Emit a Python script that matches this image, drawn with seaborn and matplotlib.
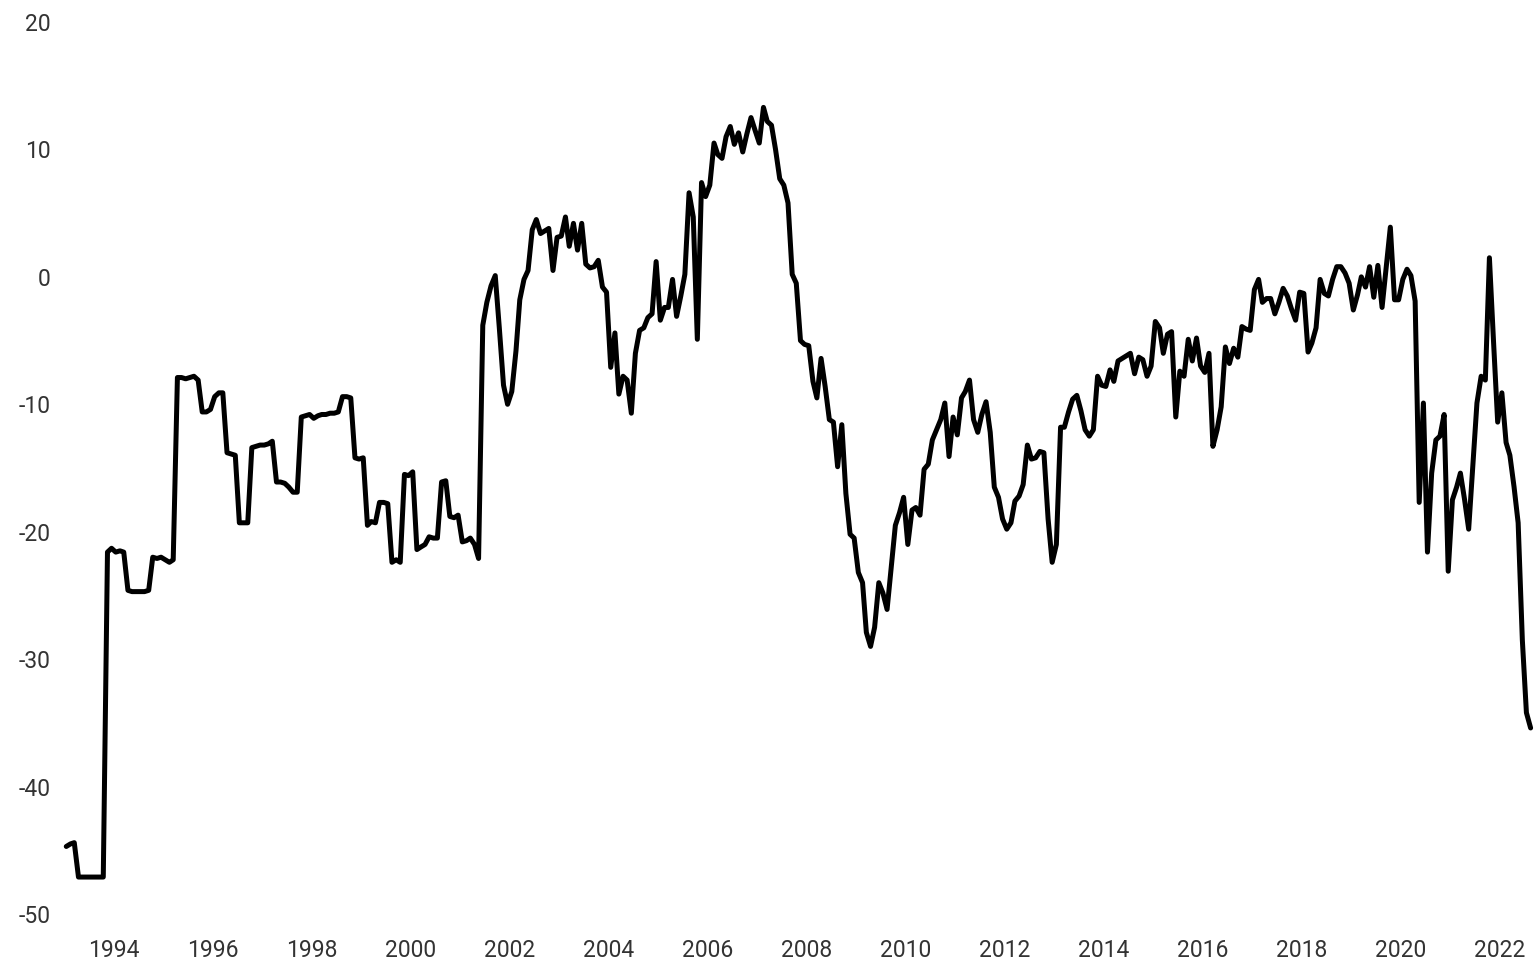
import pandas as pd
import matplotlib
matplotlib.use("Agg")
import matplotlib.pyplot as plt
import matplotlib.dates as mdates
import seaborn as sns

# Valores mensais (jan/1993 a ago/2022)
y1993 = [-44.7, -44.5, -44.4, -47.1, -47.1, -47.1, -47.1, -47.1, -47.1, -47.1, -21.6, -21.3]
y1994 = [-21.6, -21.5, -21.6, -24.6, -24.7, -24.7, -24.7, -24.7, -24.6, -22.0, -22.1, -22.0]
y1995 = [-22.2, -22.4, -22.2, -7.9, -7.9, -8.0, -7.9, -7.8, -8.1, -10.6, -10.6, -10.4]
y1996 = [-9.4, -9.1, -9.1, -13.8, -13.9, -14.0, -19.3, -19.3, -19.3, -13.4, -13.3, -13.2]
y1997 = [-13.2, -13.1, -12.9, -16.1, -16.1, -16.2, -16.5, -16.9, -16.9, -11.0, -10.9, -10.8]
y1998 = [-11.1, -10.9, -10.8, -10.8, -10.7, -10.7, -10.6, -9.4, -9.4, -9.5, -14.2, -14.3]
y1999 = [-14.2, -19.5, -19.2, -19.3, -17.7, -17.7, -17.8, -22.4, -22.2, -22.4, -15.5, -15.6]
y2000 = [-15.3, -21.4, -21.2, -21.0, -20.4, -20.5, -20.5, -16.1, -16.0, -18.8, -18.9, -18.7]
y2001 = [-20.8, -20.7, -20.5, -21.0, -22.1, -3.8, -2.0, -0.7, 0.1, -4.0, -8.5, -10.0]
y2002 = [-9.0, -5.8, -1.8, -0.2, 0.5, 3.7, 4.5, 3.4, 3.6, 3.8, 0.5, 3.1]
y2003 = [3.2, 4.7, 2.4, 4.2, 2.1, 4.2, 1.0, 0.7, 0.8, 1.3, -0.8, -1.2]
y2004 = [-7.1, -4.4, -9.2, -7.8, -8.1, -10.7, -6.0, -4.2, -4.0, -3.2, -2.9, 1.2]
y2005 = [-3.4, -2.4, -2.4, -0.2, -3.1, -1.5, 0.2, 6.6, 4.7, -4.9, 7.4, 6.3]
y2006 = [7.2, 10.5, 9.6, 9.3, 11.0, 11.8, 10.4, 11.3, 9.8, 11.2, 12.5, 11.5]
y2007 = [10.5, 13.3, 12.2, 11.9, 10.0, 7.7, 7.2, 5.8, 0.2, -0.5, -5.0, -5.3]
y2008 = [-5.4, -8.2, -9.5, -6.4, -8.6, -11.2, -11.4, -14.9, -11.6, -17.0, -20.2, -20.5]
y2009 = [-23.2, -24.0, -27.9, -29.0, -27.5, -24.0, -24.8, -26.1, -22.7, -19.5, -18.5, -17.3]
y2010 = [-21.0, -18.3, -18.1, -18.7, -15.1, -14.7, -12.8, -12.0, -11.2, -9.9, -14.1, -11.0]
y2011 = [-12.4, -9.5, -9.0, -8.1, -11.2, -12.2, -10.8, -9.8, -12.2, -16.5, -17.3, -19.0]
y2012 = [-19.8, -19.3, -17.6, -17.2, -16.3, -13.2, -14.3, -14.2, -13.7, -13.8, -19.0, -22.4]
y2013 = [-21.0, -11.8, -11.8, -10.6, -9.6, -9.3, -10.5, -12.0, -12.5, -12.0, -7.8, -8.5]
y2014 = [-8.6, -7.3, -8.2, -6.6, -6.4, -6.2, -6.0, -7.6, -6.3, -6.5, -7.8, -7.0]
y2015 = [-3.5, -4.0, -6.0, -4.5, -4.3, -11.0, -7.4, -7.8, -4.9, -6.6, -4.8, -7.0]
y2016 = [-7.5, -6.0, -13.3, -12.0, -10.2, -5.5, -6.8, -5.6, -6.3, -3.9, -4.1, -4.2]
y2017 = [-1.0, -0.2, -2.0, -1.7, -1.7, -2.9, -2.0, -0.9, -1.5, -2.5, -3.4, -1.2]
y2018 = [-1.3, -5.9, -5.2, -4.0, -0.2, -1.3, -1.5, -0.2, 0.8, 0.8, 0.3, -0.5]
y2019 = [-2.6, -1.4, 0.0, -0.8, 0.8, -1.6, 0.9, -2.4, 0.8, 3.9, -1.8, -1.8]
y2020 = [-0.2, 0.6, 0.1, -1.9, -17.7, -9.9, -21.6, -15.4, -12.8, -12.5, -10.8, -23.1]
y2021 = [-17.5, -16.5, -15.4, -17.5, -19.8, -14.8, -9.9, -7.8, -8.1, 1.5, -5.2, -11.4]
y2022 = [-9.1, -13.0, -14.0, -16.5, -19.3, -28.5, -34.2, -35.4]

valores = (y1993 + y1994 + y1995 + y1996 + y1997 + y1998 + y1999 + y2000
           + y2001 + y2002 + y2003 + y2004 + y2005 + y2006 + y2007 + y2008
           + y2009 + y2010 + y2011 + y2012 + y2013 + y2014 + y2015 + y2016
           + y2017 + y2018 + y2019 + y2020 + y2021 + y2022)
# meio do mês
datas = pd.date_range("1993-01-01", periods=len(valores), freq="MS") + pd.Timedelta(days=14)

yticks = [-50, -40, -30, -20, -10, 0, 10, 20]

df = pd.DataFrame({"data": datas, "valor": valores})

sns.set_style("white")
plt.rcParams["font.family"] = ["Roboto", "DejaVu Sans"]
plt.rcParams["axes.unicode_minus"] = False

fig = plt.figure(figsize=(15.39, 9.61), dpi=100)
ax = fig.add_axes([0.0391, 0.0489, 0.9595, 0.9282])

sns.lineplot(data=df, x="data", y="valor", color="black", linewidth=3.6, ax=ax)

ax.set_xlim(pd.Timestamp("1992-12-01"), pd.Timestamp("2022-09-30"))
ax.set_ylim(-50, 20)
ax.set_yticks(yticks)
ax.xaxis.set_major_locator(mdates.YearLocator(2))
ax.xaxis.set_major_formatter(mdates.DateFormatter("%Y"))

ax.set_xlabel("")
ax.set_ylabel("")
ax.grid(False)
sns.despine(ax=ax, left=True, bottom=True)
ax.tick_params(axis="both", length=0, labelsize=16.5, colors="#333333")
ax.tick_params(axis="y", pad=7)
ax.tick_params(axis="x", pad=18)

fig.savefig("out.png", dpi=100)
plt.close(fig)
